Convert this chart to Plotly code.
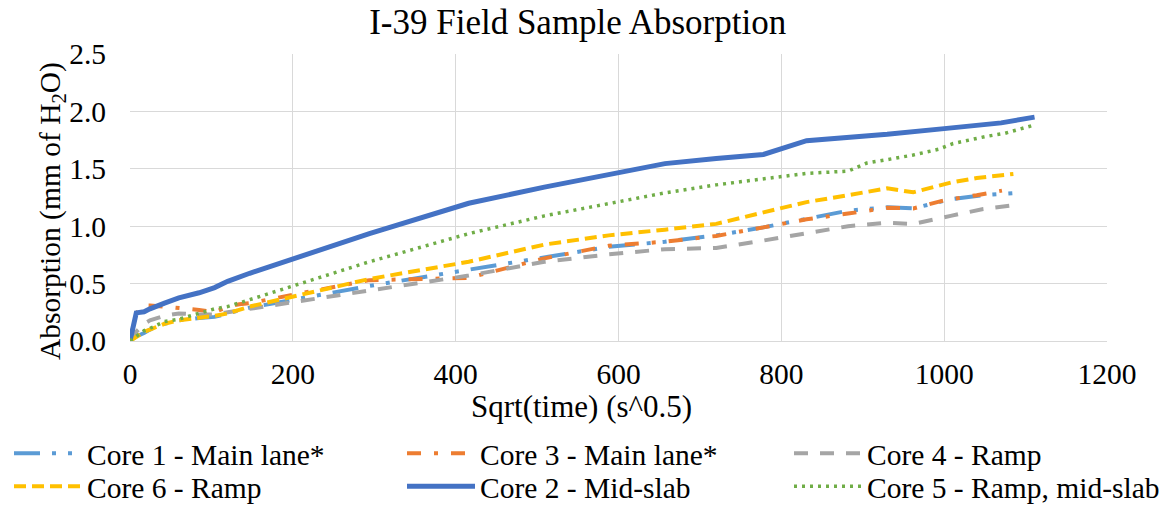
import plotly.graph_objects as go

# ---------------- data ----------------
x_core1 = [0, 7.7, 17.3, 24.5, 42.4, 60, 84.9, 103.9, 120, 134.2, 147, 294, 416, 509, 588, 657, 720, 778, 831, 882, 930, 962, 1008, 1048, 1088]
y_core1 = [0, 0.04, 0.07, 0.10, 0.15, 0.18, 0.20, 0.21, 0.24, 0.27, 0.29, 0.48, 0.62, 0.73, 0.82, 0.865, 0.92, 0.99, 1.065, 1.135, 1.165, 1.155, 1.235, 1.27, 1.29]

x_core3 = [0, 7.7, 17.3, 24.5, 42.4, 60, 84.9, 103.9, 120, 134.2, 147, 294, 416, 509, 588, 657, 720, 778, 831, 882, 930, 962, 1000, 1040, 1071]
y_core3 = [0, 0.24, 0.31, 0.31, 0.30, 0.29, 0.27, 0.25, 0.30, 0.32, 0.33, 0.53, 0.55, 0.72, 0.83, 0.865, 0.915, 0.99, 1.06, 1.11, 1.16, 1.155, 1.225, 1.27, 1.31]

x_core4 = [0, 7.7, 17.3, 24.5, 42.4, 60, 84.9, 103.9, 120, 134.2, 147, 294, 416, 509, 588, 657, 720, 778, 831, 882, 930, 962, 1008, 1048, 1088]
y_core4 = [0, 0.08, 0.15, 0.18, 0.22, 0.24, 0.23, 0.23, 0.25, 0.27, 0.28, 0.44, 0.57, 0.69, 0.755, 0.80, 0.81, 0.875, 0.94, 1.00, 1.03, 1.02, 1.09, 1.15, 1.185]

x_core6 = [0, 7.7, 17.3, 24.5, 42.4, 60, 84.9, 103.9, 120, 134.2, 147, 294, 416, 509, 588, 657, 720, 778, 831, 882, 930, 962, 1008, 1040, 1085]
y_core6 = [0, 0.04, 0.08, 0.10, 0.15, 0.18, 0.20, 0.22, 0.24, 0.27, 0.30, 0.54, 0.69, 0.84, 0.92, 0.97, 1.02, 1.12, 1.21, 1.27, 1.33, 1.295, 1.38, 1.42, 1.455]

x_core2 = [0, 7.7, 17.3, 24.5, 42.4, 60, 84.9, 103.9, 120, 134.2, 147, 294, 416, 509, 588, 657, 720, 778, 831, 882, 930, 1000, 1070, 1111]
y_core2 = [0, 0.245, 0.255, 0.28, 0.33, 0.375, 0.42, 0.465, 0.52, 0.56, 0.59, 0.935, 1.20, 1.34, 1.455, 1.545, 1.59, 1.625, 1.745, 1.77, 1.80, 1.85, 1.90, 1.95]

x_core5 = [0, 7.7, 17.3, 24.5, 42.4, 60, 84.9, 103.9, 120, 134.2, 147, 294, 416, 509, 588, 657, 720, 778, 831, 882, 905, 930, 962, 993, 1011, 1050, 1075, 1110]
y_core5 = [0, 0.04, 0.09, 0.11, 0.17, 0.19, 0.24, 0.28, 0.30, 0.33, 0.36, 0.69, 0.935, 1.09, 1.20, 1.29, 1.36, 1.415, 1.46, 1.48, 1.55, 1.58, 1.62, 1.67, 1.72, 1.78, 1.81, 1.88]

series_names = ["Core 1 - Main lane*", "Core 3 - Main lane*", "Core 4 - Ramp",
                "Core 6 - Ramp", "Core 2 - Mid-slab", "Core 5 - Ramp, mid-slab"]

x_ticks = [0, 200, 400, 600, 800, 1000, 1200]
y_ticks = [0.0, 0.5, 1.0, 1.5, 2.0, 2.5]

chart_title = "I-39 Field Sample Absorption"
x_title = "Sqrt(time) (s^0.5)"
y_title = "Absorption (mm of H<sub>2</sub>O)"

# ---------------- styling ----------------
FONT = "Liberation Serif, Times New Roman, serif"
styles = [
    dict(color="#5B9BD5", width=4, dash="26px,12px,4px,12px,4px,12px"),
    dict(color="#ED7D31", width=4, dash="14px,13px,4px,13px"),
    dict(color="#A5A5A5", width=4, dash="14px,12px"),
    dict(color="#FFC000", width=4, dash="12px,6px"),
    dict(color="#4472C4", width=5, dash="solid"),
    dict(color="#70AD47", width=3.5, dash="3px,5px"),
]
xs = [x_core1, x_core3, x_core4, x_core6, x_core2, x_core5]
ys = [y_core1, y_core3, y_core4, y_core6, y_core2, y_core5]

# plot area in pixels: left 130, right 1107, top 54, bottom 341
L, R, T, B = 130, 1107, 54, 341
W, H = 1167, 506

def px2x(px):
    return (px - L) / (R - L)

def px2y(py):
    return (B - py) / (B - T)

# legend column text starts and row centres (pixels)
col_text = [87, 480, 867]
row_mid = [453.5, 486.5]
ITEMW = 68
TEXTGAP = ITEMW + 10

fig = go.Figure()
legend_layout = {}
for i, (name, x, y, st) in enumerate(zip(series_names, xs, ys, styles)):
    key = "legend" if i == 0 else f"legend{i+1}"
    fig.add_trace(go.Scatter(x=x, y=y, mode="lines", name=name, line=st, legend=key))
    col, row = i % 3, i // 3
    legend_layout[key] = dict(
        x=px2x(col_text[col] - TEXTGAP), y=px2y(row_mid[row]),
        xanchor="left", yanchor="middle", orientation="v",
        font=dict(family=FONT, size=29.5, color="#000000"),
        bgcolor="rgba(0,0,0,0)", borderwidth=0, itemwidth=ITEMW,
        itemclick=False,
    )

fig.update_layout(
    width=W, height=H,
    margin=dict(l=L, r=W - R, t=T, b=H - B, autoexpand=False),
    paper_bgcolor="white", plot_bgcolor="white",
    font=dict(family=FONT, color="#000000"),
    title=dict(text=chart_title, x=0.495, xref="container", xanchor="center",
               y=1 - 22 / H, yref="container", yanchor="middle",
               font=dict(family=FONT, size=35, color="#000000")),
    xaxis=dict(range=[0, 1200], tickvals=x_ticks, ticktext=[str(v) for v in x_ticks],
               showgrid=True, gridcolor="#D9D9D9", gridwidth=1.3, zeroline=False,
               showline=True, linecolor="#D9D9D9", linewidth=1.3, ticks="",
               tickfont=dict(family=FONT, size=29.5, color="#000000"), ticklabelstandoff=6,
               automargin=False),
    yaxis=dict(range=[0, 2.5], tickvals=y_ticks, ticktext=[f"{v:.1f}" for v in y_ticks],
               showgrid=True, gridcolor="#D9D9D9", gridwidth=1.3, zeroline=False,
               showline=False, ticks="",
               tickfont=dict(family=FONT, size=29.5, color="#000000"), ticklabelstandoff=23,
               automargin=False),
    showlegend=True,
    annotations=[
        dict(text=x_title, xref="paper", yref="paper", x=px2x(581), y=px2y(407),
             xanchor="center", yanchor="middle", showarrow=False,
             font=dict(family=FONT, size=31, color="#000000")),
        dict(text=y_title, xref="paper", yref="paper", x=px2x(52), y=px2y(211),
             xanchor="center", yanchor="middle", showarrow=False, textangle=-90,
             font=dict(family=FONT, size=29.5, color="#000000")),
    ],
    **legend_layout,
)

fig.write_html("out.html", config={"displayModeBar": False},
               post_script="document.body.style.margin='0px';document.body.style.overflow='hidden';")
